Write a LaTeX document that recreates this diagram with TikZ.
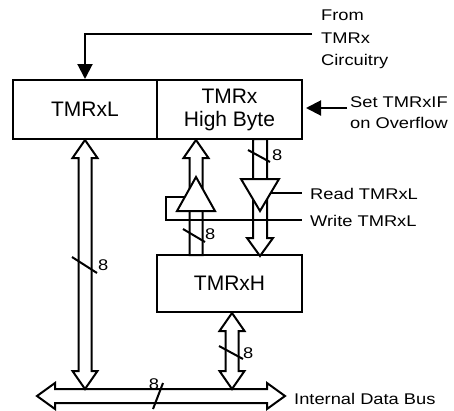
\documentclass[tikz,border=0pt]{standalone}
\usepackage{fontspec}
\setmainfont{Liberation Sans}
\newfontfamily\lblfont{Liberation Sans}[FakeStretch=1.18]
\usetikzlibrary{arrows.meta,calc}
\tikzset{
 box/.style={draw,line width=2pt,inner sep=0pt,minimum height=59pt,font=\fontsize{21}{23}\selectfont,align=center},
 fat/.style={draw,fill=white,line width=2pt,line join=miter},
 ctl/.style={line width=2pt},
 lbl/.style={inner sep=0pt,font=\lblfont\fontsize{15.5}{18}\selectfont},
 slash/.style={line width=2pt},
 tip/.style={-{Triangle[length=15pt,width=15pt]}},
}
\newcommand\fatBoth[2]{\path[fat] let \p1=#1,\p2=#2 in (\x1,\y1) -- (\x1+12.5pt,\y1-18pt) -- (\x1+6.5pt,\y1-18pt) -- (\x1+6.5pt,\y2+18pt) -- (\x1+12.5pt,\y2+18pt) -- (\x1,\y2) -- (\x1-12.5pt,\y2+18pt) -- (\x1-6.5pt,\y2+18pt) -- (\x1-6.5pt,\y1-18pt) -- (\x1-12.5pt,\y1-18pt) -- cycle;}
\newcommand\fatUp[2]{\path[fat] let \p1=#1,\p2=#2 in (\x1,\y1) -- (\x1+12.5pt,\y1-18pt) -- (\x1+6.5pt,\y1-18pt) -- (\x1+6.5pt,\y2) -- (\x1-6.5pt,\y2) -- (\x1-6.5pt,\y1-18pt) -- (\x1-12.5pt,\y1-18pt) -- cycle;}
\newcommand\fatDown[2]{\path[fat] let \p1=#1,\p2=#2 in (\x1-7pt,\y1) -- (\x1+7pt,\y1) -- (\x1+7pt,\y2+18pt) -- (\x1+13pt,\y2+18pt) -- (\x1,\y2) -- (\x1-13pt,\y2+18pt) -- (\x1-7pt,\y2+18pt) -- cycle;}
\begin{document}
\begin{tikzpicture}[x=1pt,y=-1pt]
\useasboundingbox (0,0) rectangle (454,410);
% boxes
\node[box,minimum width=144pt] (L) at (85,109.5) {TMRxL};
\node[box,minimum width=145pt] (H) at (229.5,109.5) {TMRx\\High Byte};
\node[box,minimum width=145pt,minimum height=57pt] (XH) at (229.5,283.5) {TMRxH};
% coordinates
\coordinate (busL) at (37,396);
\coordinate (busR) at (285,396);
\coordinate (b1) at (85,389);
\coordinate (b2) at (232,389);
\coordinate (upT) at (196,140);
\coordinate (upB) at (196,255);
\coordinate (dnT) at (260,139);
\coordinate (dnB) at (260,256);
% bus
\path[fat] let \p1=(busL),\p2=(busR) in (\x1,\y1) -- (\x1+18pt,\y1+13pt) -- (\x1+18pt,\y1+7pt) -- (\x2-18pt,\y2+7pt) -- (\x2-18pt,\y2+13pt) -- (\x2,\y2) -- (\x2-18pt,\y2-13pt) -- (\x2-18pt,\y2-7pt) -- (\x1+18pt,\y1-7pt) -- (\x1+18pt,\y1-13pt) -- cycle;
% vertical fat arrows
\fatBoth{(L.south)}{(b1)}
\fatBoth{(XH.south -| b2)}{(b2)}
\fatUp{(upT)}{(upB)}
\fatDown{(dnT)}{(dnB)}
% buffers
\coordinate (rd1) at (241,179);
\coordinate (rd2) at (279,179);
\coordinate (rd3) at (260,211);
\coordinate (wr1) at (177,211);
\coordinate (wr2) at (215,211);
\coordinate (wr3) at (196,177);
\path[fat] (rd1) -- (rd2) -- (rd3) -- cycle;
\path[fat] (wr1) -- (wr2) -- (wr3) -- cycle;
% control lines
\coordinate (rdEnd) at (302,193);
\coordinate (wrCorner) at (166,220);
\coordinate (wrEnd) at (302,220);
\draw[ctl] ($(rd2)!0.4375!(rd3)$) -- (rdEnd);
\draw[ctl] ($(wr3)!0.588!(wr1)$) -| (wrCorner) -- (wrEnd);
\node[lbl,anchor=base west] (rdl) at (310,199) {Read TMRxL};
\node[lbl,anchor=base west] (wrl) at (310,226) {Write TMRxL};
% From TMRx circuitry
\coordinate (fromc) at (312,34);
\draw[ctl,tip] (fromc) -| (L.north);
\node[lbl,anchor=base west] (f1) at (321,20) {From};
\node[lbl,anchor=base west] (f2) at (321,43) {TMRx};
\node[lbl,anchor=base west] (f3) at (321,65) {Circuitry};
% Set TMRxIF
\coordinate (setc) at (347,108);
\draw[ctl,tip,shorten >=3pt] (setc) -- (H.east |- setc);
\node[lbl,anchor=base west] (s1) at (350,107) {Set TMRxIF};
\node[lbl,anchor=base west] (s2) at (350,128) {on Overflow};
% slashes and widths
\draw[slash] (72,257) -- (97,273);
\node[lbl,anchor=west] (w1) at (98,265) {8};
\draw[slash] (248,150) -- (270,162);
\node[lbl,anchor=west] (w2) at (272,155) {8};
\draw[slash] (183,229) -- (205,242);
\node[lbl,anchor=west] (w3) at (205,234) {8};
\draw[slash] (219,346) -- (243,359);
\node[lbl,anchor=west] (w4) at (243,353) {8};
\draw[slash] (163,383) -- (153,409);
\node[lbl] (w5) at (154,384) {8};
\node[lbl,anchor=base west] (bus) at (294,404) {Internal Data Bus};
\end{tikzpicture}
\end{document}
